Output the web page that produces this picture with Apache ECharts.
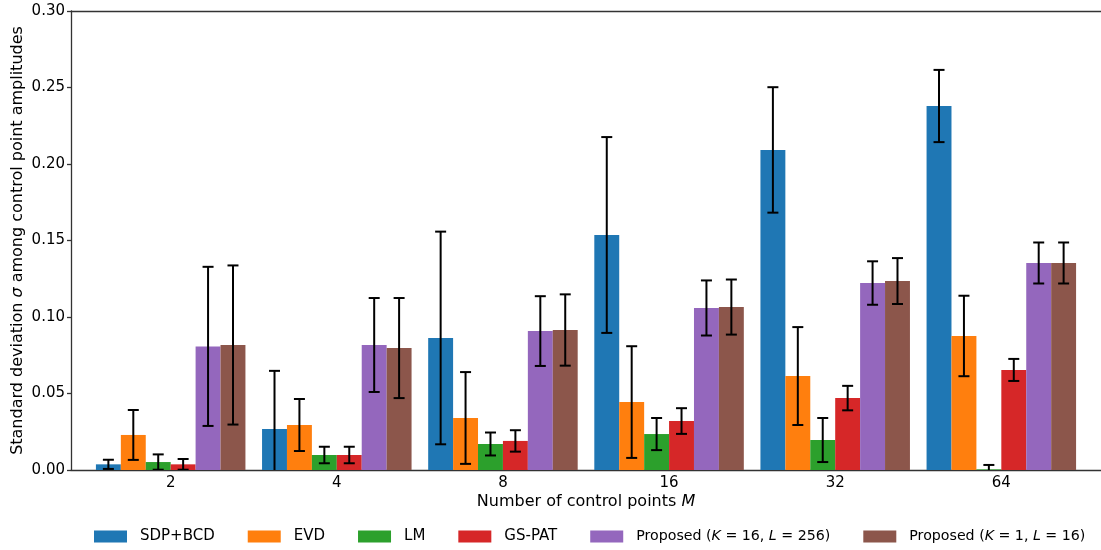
<!DOCTYPE html>
<html>
<head>
<meta charset="utf-8">
<script src="https://cdn.jsdelivr.net/npm/echarts@6/dist/echarts.min.js"></script>
<style>html,body{margin:0;padding:0;background:#fff}#c{width:1101px;height:550px}</style>
</head>
<body>
<div id="c"></div>
<script>
const categories = ['2', '4', '8', '16', '32', '64'];
const methodNames = ['SDP+BCD', 'EVD', 'LM', 'GS-PAT', 'Proposed (K = 16, L = 256)', 'Proposed (K = 1, L = 16)'];
const sdpMean = [0.0037, 0.0268, 0.0863, 0.1536, 0.2092, 0.2379];
const sdpErr  = [0.0030, 0.0380, 0.0695, 0.0640, 0.0410, 0.0236];
const evdMean = [0.0229, 0.0294, 0.0340, 0.0444, 0.0614, 0.0876];
const evdErr  = [0.0163, 0.0170, 0.0300, 0.0365, 0.0320, 0.0263];
const lmMean  = [0.0052, 0.0098, 0.0170, 0.0235, 0.0196, 0.0004];
const lmErr   = [0.0050, 0.0054, 0.0075, 0.0105, 0.0144, 0.0029];
const gsMean  = [0.0037, 0.0098, 0.0190, 0.0320, 0.0470, 0.0654];
const gsErr   = [0.0035, 0.0054, 0.0070, 0.0084, 0.0080, 0.0072];
const k16Mean = [0.0808, 0.0817, 0.0908, 0.1059, 0.1222, 0.1353];
const k16Err  = [0.0520, 0.0307, 0.0228, 0.0180, 0.0142, 0.0134];
const k1Mean  = [0.0817, 0.0797, 0.0915, 0.1065, 0.1235, 0.1353];
const k1Err   = [0.0520, 0.0327, 0.0233, 0.0180, 0.0150, 0.0134];
const yTicks = [0, 0.05, 0.10, 0.15, 0.20, 0.25, 0.30];

const means = [sdpMean, evdMean, lmMean, gsMean, k16Mean, k1Mean];
const errs = [sdpErr, evdErr, lmErr, gsErr, k16Err, k1Err];
const colors = ['#1f77b4', '#ff7f0e', '#2ca02c', '#d62728', '#9467bd', '#8c564b'];
const legendRich = {
  '0': 'SDP+BCD', '1': 'EVD', '2': 'LM', '3': 'GS-PAT',
  '4': '{n|Proposed (}{i|K}{n| = 16, }{i|L}{n| = 256)}',
  '5': '{n|Proposed (}{i|K}{n| = 1, }{i|L}{n| = 16)}'
};
const FONT = 'DejaVu Sans';
const BW = 0.15;

const series = methodNames.map((name, m) => ({
  name: name,
  type: 'custom',
  clip: true,
  itemStyle: { color: colors[m] },
  data: categories.map((c, i) => [i, means[m][i], errs[m][i]]),
  renderItem: function (params, api) {
    const x = api.value(0) + (m - 2.5) * BW;
    const v = api.value(1), e = api.value(2);
    const p0 = api.coord([x - BW / 2, v]);
    const p1 = api.coord([x + BW / 2, 0]);
    const top = api.coord([x, v + e]);
    const bot = api.coord([x, v - e]);
    const cap = 5.5;
    const ls = { stroke: '#000', lineWidth: 2 };
    return {
      type: 'group',
      children: [
        { type: 'rect', shape: { x: p0[0], y: p0[1], width: p1[0] - p0[0], height: p1[1] - p0[1] }, style: { fill: colors[m] } },
        { type: 'line', shape: { x1: top[0], y1: top[1], x2: bot[0], y2: bot[1] }, style: ls },
        { type: 'line', shape: { x1: top[0] - cap, y1: top[1], x2: top[0] + cap, y2: top[1] }, style: ls },
        { type: 'line', shape: { x1: bot[0] - cap, y1: bot[1], x2: bot[0] + cap, y2: bot[1] }, style: ls }
      ]
    };
  }
}));

const chart = echarts.init(document.getElementById('c'), null, { renderer: 'canvas' });
chart.setOption({
  animation: false,
  backgroundColor: '#fff',
  textStyle: { fontFamily: FONT },
  grid: { left: 71, right: 0, top: 11, bottom: 80, containLabel: false, outerBoundsMode: 'none' },
  legend: {
    bottom: 1,
    left: 89,
    itemWidth: 33,
    itemHeight: 12,
    itemGap: 33,
    icon: 'rect',
    data: methodNames,
    formatter: function (name) { return legendRich[methodNames.indexOf(name)]; },
    textStyle: {
      fontFamily: FONT, fontSize: 15, color: '#000', padding: [0, 0, 0, 8],
      rich: {
        n: { fontFamily: FONT, fontSize: 14.2, color: '#000' },
        i: { fontFamily: FONT, fontSize: 14.2, color: '#000', fontStyle: 'italic' }
      }
    }
  },
  xAxis: [{
    type: 'value',
    min: -0.6,
    max: 5.6,
    splitLine: { show: false },
    axisLine: { show: true, onZero: false, lineStyle: { color: '#333', width: 1.3 } },
    axisTick: { show: false },
    axisLabel: {
      customValues: [0, 1, 2, 3, 4, 5],
      formatter: function (v) { return categories[Math.round(v)]; },
      fontFamily: FONT, fontSize: 15, color: '#000', margin: 6
    },
    name: 'Number of control points {i|M}',
    nameLocation: 'middle',
    nameGap: 24,
    nameMoveOverlap: false,
    nameTextStyle: {
      fontFamily: FONT, fontSize: 16, color: '#000',
      rich: { i: { fontFamily: FONT, fontSize: 16, color: '#000', fontStyle: 'italic' } }
    }
  }, {
    type: 'value',
    position: 'top',
    min: -0.6,
    max: 5.6,
    splitLine: { show: false },
    axisLine: { show: true, onZero: false, lineStyle: { color: '#333', width: 1.3 } },
    axisTick: { show: false },
    axisLabel: { show: false }
  }],
  yAxis: {
    type: 'value',
    min: 0,
    max: 0.3,
    interval: 0.05,
    splitLine: { show: false },
    axisLine: { show: true, onZero: false, lineStyle: { color: '#333', width: 1.3 } },
    axisTick: { show: true, length: 4, lineStyle: { color: '#333', width: 1.3 } },
    axisLabel: {
      formatter: function (v) { return v.toFixed(2); },
      fontFamily: FONT, fontSize: 15, color: '#000', margin: 6
    },
    name: '{n|Standard deviation }{i|σ}{n| among control point amplitudes}',
    nameLocation: 'middle',
    nameGap: 45,
    nameMoveOverlap: false,
    nameTextStyle: {
      fontFamily: FONT, fontSize: 16, color: '#000',
      rich: {
        n: { fontFamily: FONT, fontSize: 16, color: '#000' },
        i: { fontFamily: FONT, fontSize: 16, color: '#000', fontStyle: 'italic' }
      }
    }
  },
  series: series
});
</script>
</body>
</html>
